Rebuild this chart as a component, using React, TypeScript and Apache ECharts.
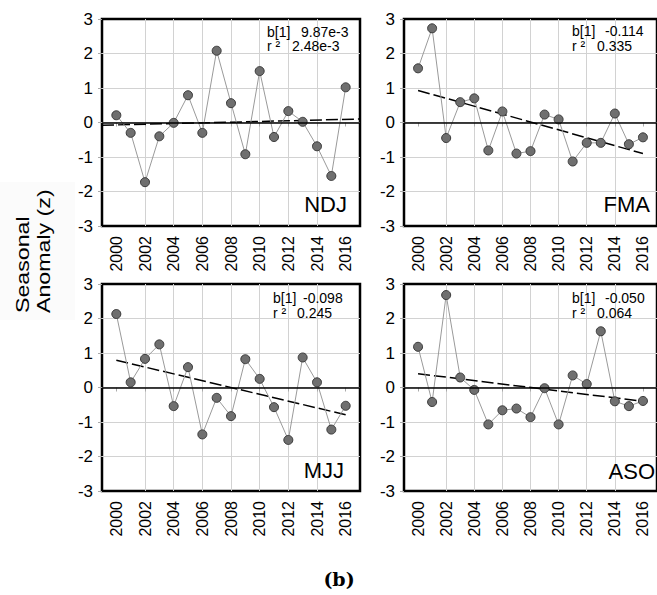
import React, { useEffect, useRef } from 'react';
import * as echarts from 'echarts';

const years = [2000, 2001, 2002, 2003, 2004, 2005, 2006, 2007, 2008, 2009, 2010, 2011, 2012, 2013, 2014, 2015, 2016];
const yearTickLabels = [2000, 2002, 2004, 2006, 2008, 2010, 2012, 2014, 2016];

const ndjValues = [0.21, -0.30, -1.73, -0.40, -0.01, 0.79, -0.30, 2.08, 0.56, -0.92, 1.49, -0.42, 0.33, 0.02, -0.69, -1.55, 1.02];
const fmaValues = [1.57, 2.73, -0.45, 0.59, 0.70, -0.81, 0.32, -0.90, -0.83, 0.23, 0.09, -1.13, -0.59, -0.59, 0.26, -0.63, -0.43];
const mjjValues = [2.13, 0.15, 0.83, 1.25, -0.54, 0.59, -1.36, -0.30, -0.83, 0.82, 0.25, -0.57, -1.52, 0.87, 0.15, -1.22, -0.53];
const asoValues = [1.18, -0.42, 2.68, 0.29, -0.07, -1.07, -0.66, -0.61, -0.86, -0.02, -1.07, 0.35, 0.10, 1.63, -0.40, -0.54, -0.39];

const ndjTrend = [[1999, -0.08], [2017, 0.10]];
const fmaTrend = [[2000, 0.93], [2016, -0.90]];
const mjjTrend = [[2000, 0.79], [2016, -0.79]];
const asoTrend = [[2000, 0.40], [2016, -0.40]];

const seasonNames = ['NDJ', 'FMA', 'MJJ', 'ASO'];
const slopeTexts = ['9.87e-3', '-0.114', '-0.098', '-0.050'];
const r2Texts = ['2.48e-3', '0.335', '0.245', '0.064'];
const yAxisTitleLines = ['Seasonal', 'Anomaly (z)'];
const figureTag = '(b)';

const FONT = 'Liberation Sans, Arial, Helvetica, sans-serif';

const panelValues = [ndjValues, fmaValues, mjjValues, asoValues];
const panelTrends = [ndjTrend, fmaTrend, mjjTrend, asoTrend];

// layout (pixels)
const boxes = [
  { left: 102, top: 19 },
  { left: 404, top: 19 },
  { left: 102, top: 284 },
  { left: 404, top: 284 },
];
const BOX_W = 258;
const BOX_H = 207;
const annot = [
  { bx: 267, vx: 301, rx: 292, y1: 31.5, y2: 46 },
  { bx: 572, vx: 605, rx: 597, y1: 31, y2: 45.5 },
  { bx: 273, vx: 303, rx: 297, y1: 298, y2: 312.8 },
  { bx: 572, vx: 605, rx: 597, y1: 298, y2: 312.8 },
];
const seasonPos = [
  { x: 347, y: 204 },
  { x: 650, y: 204.7 },
  { x: 344, y: 470.8 },
  { x: 655, y: 471 },
];

export default function App() {
  const ref = useRef<HTMLDivElement>(null);
  useEffect(() => {
    if (!ref.current) return;
    const chart = echarts.init(ref.current, undefined, { renderer: 'svg' });

    const grid: any[] = [];
    const xAxis: any[] = [];
    const yAxis: any[] = [];
    const series: any[] = [];
    const graphic: any[] = [];

    graphic.push({
      type: 'rect',
      shape: { x: 0, y: 182, width: 75, height: 138 },
      style: { fill: '#fbfbfb' },
      z: -10,
      silent: true,
    });

    boxes.forEach((b, i) => {
      grid.push({
        left: b.left,
        top: b.top,
        width: BOX_W,
        height: BOX_H,
        show: true,
        borderColor: '#000',
        borderWidth: 2.5,
        backgroundColor: 'transparent',
        containLabel: false,
      });
      xAxis.push({
        type: 'value',
        gridIndex: i,
        min: 1999,
        max: 2017,
        interval: 1,
        axisLine: { show: false },
        axisTick: {
          show: true,
          length: 4,
          customValues: yearTickLabels,
          lineStyle: { color: '#aaa', width: 1 },
        },
        axisLabel: {
          show: true,
          rotate: 90,
          margin: 10,
          fontSize: 16,
          fontFamily: FONT,
          color: '#000',
          customValues: yearTickLabels,
          formatter: (v: number) => String(v),
        },
        splitLine: {
          show: true,
          showMinLine: false,
          showMaxLine: false,
          lineStyle: { color: '#d2d2d2', width: 1 },
        },
      });
      yAxis.push({
        type: 'value',
        gridIndex: i,
        min: -3,
        max: 3,
        interval: 1,
        axisLine: { show: false },
        axisTick: { show: true, length: 4, lineStyle: { color: '#aaa', width: 1 } },
        axisLabel: {
          show: true,
          margin: 9,
          fontSize: 17,
          fontFamily: FONT,
          color: '#000',
        },
        splitLine: {
          show: true,
          showMinLine: false,
          showMaxLine: false,
          lineStyle: { color: '#d2d2d2', width: 1 },
        },
      });
      series.push({
        type: 'line',
        xAxisIndex: i,
        yAxisIndex: i,
        data: panelTrends[i],
        symbol: 'none',
        lineStyle: { color: '#000', width: 1.5, type: [12, 4] },
        z: 2,
        silent: true,
        markLine: {
          silent: true,
          symbol: ['none', 'none'],
          label: { show: false },
          lineStyle: { color: '#000', width: 1.5, type: 'solid' },
          data: [{ yAxis: 0 }],
        },
      });
      series.push({
        type: 'line',
        xAxisIndex: i,
        yAxisIndex: i,
        data: years.map((y, k) => [y, panelValues[i][k]]),
        symbol: 'circle',
        symbolSize: 9,
        lineStyle: { color: '#9a9a9a', width: 1 },
        itemStyle: { color: '#6f6f6f', borderColor: '#3a3a3a', borderWidth: 1 },
        z: 3,
      });

      const a = annot[i];
      const txt = (x: number, y: number, text: string) => ({
        type: 'text',
        x,
        y,
        z: 10,
        silent: true,
        style: {
          text,
          fill: '#000',
          fontSize: 14,
          fontFamily: FONT,
          align: 'left',
          verticalAlign: 'middle',
        },
      });
      graphic.push(txt(a.bx, a.y1, 'b[1]'));
      graphic.push(txt(a.vx, a.y1, slopeTexts[i]));
      graphic.push(txt(a.bx, a.y2, 'r ²'));
      graphic.push(txt(a.rx, a.y2, r2Texts[i]));

      const s = seasonPos[i];
      graphic.push({
        type: 'text',
        x: s.x,
        y: s.y,
        z: 10,
        silent: true,
        style: {
          text: seasonNames[i],
          fill: '#000',
          fontSize: 22,
          fontFamily: FONT,
          align: 'right',
          verticalAlign: 'middle',
        },
      });
    });

    const titleX = [22.7, 42.8];
    yAxisTitleLines.forEach((line, k) => {
      graphic.push({
        type: 'text',
        x: titleX[k],
        y: 313,
        rotation: Math.PI / 2,
        scaleX: 1.22,
        scaleY: 1,
        z: 10,
        silent: true,
        style: {
          text: line,
          fill: '#000',
          fontSize: 19,
          fontFamily: FONT,
          align: 'left',
          verticalAlign: 'middle',
        },
      });
    });

    graphic.push({
      type: 'text',
      x: 339,
      y: 579,
      z: 10,
      silent: true,
      style: {
        text: figureTag,
        fill: '#000',
        fontSize: 19,
        fontWeight: 'bold',
        fontFamily: 'DejaVu Serif',
        align: 'center',
        verticalAlign: 'middle',
      },
    });

    chart.setOption({
      animation: false,
      backgroundColor: '#fff',
      grid,
      xAxis,
      yAxis,
      series,
      graphic,
    });
    return () => chart.dispose();
  }, []);

  return (
    <div
      ref={ref}
      style={{ position: 'absolute', left: 0, top: 0, width: 657, height: 595 }}
    />
  );
}
